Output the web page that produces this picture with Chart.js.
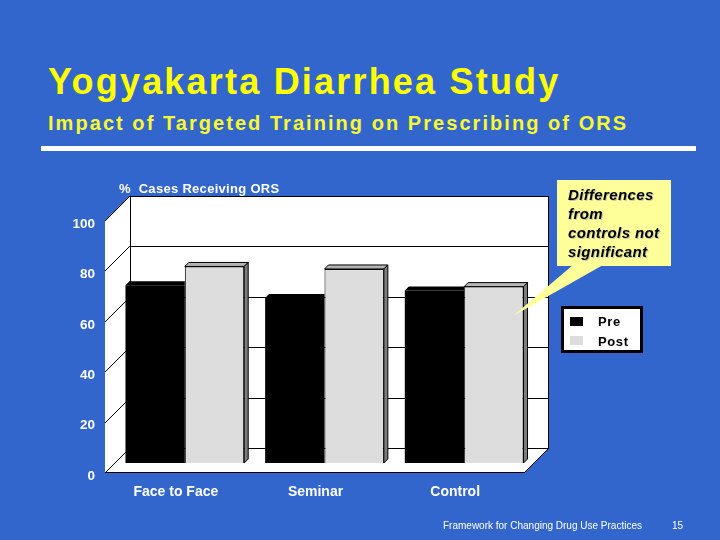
<!DOCTYPE html>
<html>
<head>
<meta charset="utf-8">
<script src="https://cdn.jsdelivr.net/npm/chart.js@4"></script>
<style>
  html, body { margin: 0; padding: 0; }
  body { width: 720px; height: 540px; background: #3366CC; position: relative; overflow: hidden;
         font-family: "Liberation Sans", Arial, sans-serif; }
  .abs { position: absolute; white-space: nowrap; line-height: 1; }
  #chart { position: absolute; left: 0; top: 0; }
  #title { left: 48px; top: 64px; font-size: 36px; letter-spacing: 2.2px; font-weight: bold; color: #FFFF00; }
  #subtitle { left: 48px; top: 113px; font-size: 20px; letter-spacing: 2.05px; font-weight: bold; color: #F8F830; }
  #rule { position: absolute; left: 41px; top: 146px; width: 655px; height: 5px; background: #fff; }
  #ytitle { left: 119px; top: 182px; font-size: 13px; letter-spacing: 0.3px; font-weight: bold; color: #fff; }
  #callout { position: absolute; left: 557px; top: 180px; width: 114px; height: 86px; background: #FFFF99; }
  #callout div { position: absolute; left: 11px; top: 5px; font-size: 15px; line-height: 19px; letter-spacing: 0.4px;
                 font-weight: bold; font-style: italic; color: #000; text-shadow: 1px 1px 0 #c8c8a0; }
  #pointer { position: absolute; left: 0; top: 0; }
  #legend { position: absolute; left: 561px; top: 306px; width: 76px; height: 41px; border: 3px solid #000; background: #fff; }
  .sw { position: absolute; left: 6px; width: 13px; height: 9px; }
  .lt { position: absolute; left: 34px; font-size: 13px; font-weight: bold; letter-spacing: 0.6px; color: #000; line-height: 1; }
  #footer { left: 443px; top: 521px; font-size: 10px; color: #fff; }
  #page { left: 672px; top: 521px; font-size: 10px; color: #fff; }
</style>
</head>
<body>
<div class="abs" id="title">Yogyakarta Diarrhea Study</div>
<div class="abs" id="subtitle">Impact of Targeted Training on Prescribing of ORS</div>
<div id="rule"></div>
<canvas id="chart" width="720" height="540"></canvas>
<div class="abs" id="ytitle">%&nbsp; Cases Receiving ORS</div>
<svg id="pointer" width="720" height="540"><polygon points="573,265 603,265 513,316" fill="#FFFF99"/></svg>
<div id="callout"><div>Differences<br>from<br>controls not<br>significant</div></div>
<div id="legend">
  <div class="sw" style="top:8px;background:#000"></div>
  <div class="lt" style="top:6px">Pre</div>
  <div class="sw" style="top:27px;background:#DDDDDD"></div>
  <div class="lt" style="top:26px">Post</div>
</div>
<div class="abs" id="footer">Framework for Changing Drug Use Practices</div>
<div class="abs" id="page">15</div>
<script>
const categories = ["Face to Face", "Seminar", "Control"];
const preValues = [70.5, 65.5, 68.5];
const postValues = [78, 77, 70];

const DEPTH = 25;      // depth of the whole box
const BAR_DEPTH = 10;  // bars stand this far behind the front edge
const FACE = 4;        // thickness of bar top / side faces

function poly(ctx, pts) {
  ctx.beginPath();
  ctx.moveTo(pts[0][0], pts[0][1]);
  for (let i = 1; i < pts.length; i++) ctx.lineTo(pts[i][0], pts[i][1]);
  ctx.closePath();
}

function line(ctx, x1, y1, x2, y2) {
  ctx.beginPath();
  ctx.moveTo(x1, y1);
  ctx.lineTo(x2, y2);
  ctx.stroke();
}

const box3d = {
  id: "box3d",
  beforeDatasetsDraw(chart) {
    const { ctx, chartArea: a, scales: { y } } = chart;
    const f = BAR_DEPTH, b = DEPTH - BAR_DEPTH;
    const y0 = Math.round(y.getPixelForValue(0)), yTop = Math.round(y.getPixelForValue(100));
    const L = Math.round(a.left), R = Math.round(a.right);
    ctx.save();
    ctx.fillStyle = "#fff";
    ctx.fillRect(L + b, yTop - b, R - L, y0 - yTop);
    poly(ctx, [[L - f, y0 + f], [L - f, yTop + f], [L + b, yTop - b], [L + b, y0 - b]]);
    ctx.fill();
    poly(ctx, [[L - f, y0 + f], [R - f, y0 + f], [R + b, y0 - b], [L + b, y0 - b]]);
    ctx.fill();

    ctx.strokeStyle = "#000";
    ctx.lineWidth = 1;
    y.ticks.forEach(t => {
      const p = Math.round(y.getPixelForValue(t.value));
      line(ctx, L + b, p - b + 0.5, R + b, p - b + 0.5);
      line(ctx, L - f, p + f, L + b, p - b);
    });
    line(ctx, L + b + 0.5, yTop - b, L + b + 0.5, y0 - b);
    line(ctx, R + b - 0.5, yTop - b, R + b - 0.5, y0 - b);
    line(ctx, L - f, y0 + f - 0.5, R - f, y0 + f - 0.5);
    line(ctx, R - f, y0 + f, R + b, y0 - b);
    ctx.restore();
  },
  afterDatasetsDraw(chart) {
    const { ctx } = chart;
    ctx.save();
    ctx.lineWidth = 1;
    ctx.strokeStyle = "#000";
    chart.getDatasetMeta(0).data.forEach(bar => {
      const { x, y, width } = bar.getProps(["x", "y", "width"], true);
      const l = x - width / 2, r = x + width / 2;
      ctx.fillStyle = "#000";
      poly(ctx, [[l, y], [l + FACE, y - FACE], [r, y - FACE], [r, y]]);
      ctx.fill();
    });
    chart.getDatasetMeta(1).data.forEach(bar => {
      const { x, y, base, width } = bar.getProps(["x", "y", "base", "width"], true);
      const l = x - width / 2, r = x + width / 2;
      ctx.fillStyle = "#B4B4B4";
      poly(ctx, [[l, y], [l + FACE, y - FACE], [r + FACE, y - FACE], [r, y]]);
      ctx.fill(); ctx.stroke();
      ctx.fillStyle = "#7C7C7C";
      poly(ctx, [[r, y], [r + FACE, y - FACE], [r + FACE, base - FACE], [r, base]]);
      ctx.fill(); ctx.stroke();
    });
    ctx.restore();
  }
};

new Chart(document.getElementById("chart"), {
  type: "bar",
  data: {
    labels: categories,
    datasets: [
      { label: "Pre", data: preValues, backgroundColor: "#000", borderWidth: 0 },
      { label: "Post", data: postValues, backgroundColor: "#DDDDDD", borderColor: "#000", borderWidth: 1 }
    ]
  },
  options: {
    responsive: false,
    animation: false,
    datasets: { bar: { categoryPercentage: 0.85, barPercentage: 1 } },
    layout: { padding: { left: 0, right: 186, top: 211, bottom: 37 } },
    plugins: { legend: { display: false }, tooltip: { enabled: false } },
    scales: {
      x: {
        grid: { display: false, drawTicks: false },
        border: { display: false },
        ticks: { color: "#fff", font: { family: "Liberation Sans", size: 14, weight: "bold" }, padding: 21, labelOffset: -9 },
        afterFit: s => { s.height = 40; }
      },
      y: {
        min: 0, max: 100,
        grid: { display: false, drawTicks: false },
        border: { display: false },
        ticks: { stepSize: 20, color: "#fff", font: { family: "Liberation Sans", size: 13.5, weight: "bold" }, padding: 20, labelOffset: 13 },
        afterFit: s => { s.height; s.width = 115; }
      }
    }
  },
  plugins: [box3d]
});
</script>
</body>
</html>
